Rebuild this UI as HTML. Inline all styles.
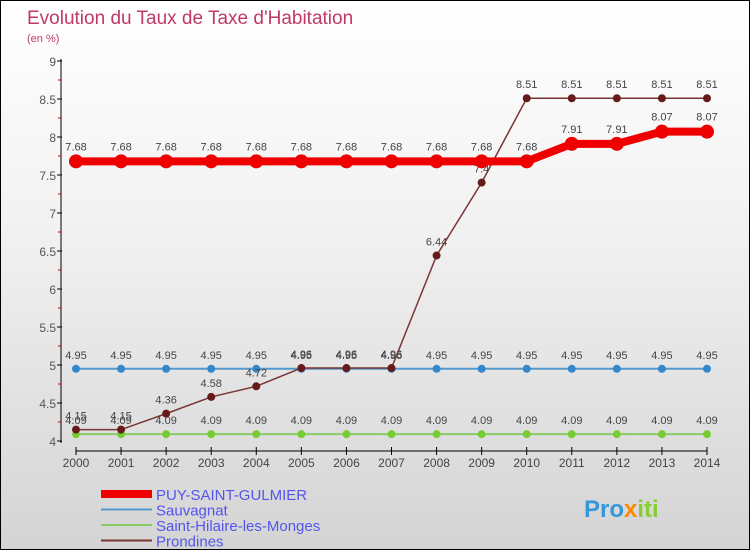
<!DOCTYPE html>
<html><head><meta charset="utf-8"><style>
body{margin:0;}
#wrap{width:750px;height:550px;position:relative;background:linear-gradient(#ffffff,#f2f2f2 40%,#d4d4d4);font-family:"Liberation Sans",sans-serif;box-sizing:border-box;border:1px solid #000;overflow:hidden}
svg{position:absolute;left:0;top:0}
</style></head><body>
<div id="wrap">
<svg id="c" width="750" height="550"></svg>
</div>
<script>
const years=[2000,2001,2002,2003,2004,2005,2006,2007,2008,2009,2010,2011,2012,2013,2014];
const puy=[7.68,7.68,7.68,7.68,7.68,7.68,7.68,7.68,7.68,7.68,7.68,7.91,7.91,8.07,8.07];
const sauv=[4.95,4.95,4.95,4.95,4.95,4.95,4.95,4.95,4.95,4.95,4.95,4.95,4.95,4.95,4.95];
const hil=[4.09,4.09,4.09,4.09,4.09,4.09,4.09,4.09,4.09,4.09,4.09,4.09,4.09,4.09,4.09];
const pron=[4.15,4.15,4.36,4.58,4.72,4.96,4.96,4.96,6.44,7.4,8.51,8.51,8.51,8.51,8.51];
const yTicks=[4,4.5,5,5.5,6,6.5,7,7.5,8,8.5,9];
const names=["PUY-SAINT-GULMIER","Sauvagnat","Saint-Hilaire-les-Monges","Prondines"];
const NS="http://www.w3.org/2000/svg";
const svg=document.getElementById('c');
const X=i=>75+i*(706-75)/(years.length-1);
const Y=v=>440-(v-4)*76;
function el(t,a,p){const e=document.createElementNS(NS,t);for(const k in a)e.setAttribute(k,a[k]);(p||svg).appendChild(e);return e;}
function txt(x,y,s,a){const e=el('text',Object.assign({x:x,y:y},a));e.textContent=s;return e;}
let t=txt(26,23,"Evolution du Taux de Taxe d'Habitation",{fill:'#c0386a','font-size':19});

t=txt(26,41,"(en %)",{fill:'#c0386a','font-size':11});

let a=el('line',{x1:60,y1:58,x2:60,y2:442,stroke:'#000','stroke-width':1});

a=el('line',{x1:75,y1:450,x2:706,y2:450,stroke:'#000','stroke-width':1});

yTicks.forEach((v,i)=>{
 el('line',{x1:56,y1:Y(v),x2:61,y2:Y(v),stroke:'#000'});
 if(i<yTicks.length-1)el('line',{x1:57,y1:Y(v+0.25),x2:60,y2:Y(v+0.25),stroke:'#c00'});
 const l=txt(55,Y(v)+5,String(v),{fill:'#555','font-size':12,'text-anchor':'end'});
 
});
years.forEach((y,i)=>{
 el('line',{x1:X(i),y1:446,x2:X(i),y2:454,stroke:'#000'});
 const l=txt(X(i),466,String(y),{fill:'#444','font-size':12,'text-anchor':'middle'});
 
});
function series(d,color,w,r,dot,name,lblDy){
 const g=el('g',{});
 
 el('polyline',{points:d.map((v,i)=>X(i)+','+Y(v)).join(' '),fill:'none',stroke:color,'stroke-width':w},g);
 d.forEach((v,i)=>{
  const c=el('circle',{cx:X(i),cy:Y(v),r:r,fill:dot},g);
  
  const l=txt(X(i),Y(v)+lblDy,String(v),{fill:'#444','font-size':11,'text-anchor':'middle'});
  g.appendChild(l);
 });
}
series(hil,'#88cc66',2,4,'#77cc33','series-saint-hilaire',-10);
series(sauv,'#5599cc',2,4,'#3388cc','series-sauvagnat',-10);
series(pron,'#7a3535',1.5,4,'#661a1a','series-prondines',-10);
series(puy,'#ee0000',8,7,'#ee0000','series-puy-saint-gulmier',-11);
const lc=[['#ee0000',8],['#5599cc',2],['#88cc66',2],['#7a3535',2]];
names.forEach((n,i)=>{
 const y=493+i*15.5;
 const g=el('g',{});
 
 el('line',{x1:100,y1:y,x2:151,y2:y,stroke:lc[i][0],'stroke-width':lc[i][1]},g);
 const l=txt(155,y+6,n,{fill:'#5555ee','font-size':15});g.appendChild(l);
});
const lg=el('text',{x:583,y:516,'font-size':24,'font-weight':'bold'});

const parts=[['Pro','#3399dd'],['x','#ff8800'],['iti','#88cc33']];
parts.forEach(p=>{const s=el('tspan',{fill:p[1]},lg);s.textContent=p[0];});
</script>
</body></html>
